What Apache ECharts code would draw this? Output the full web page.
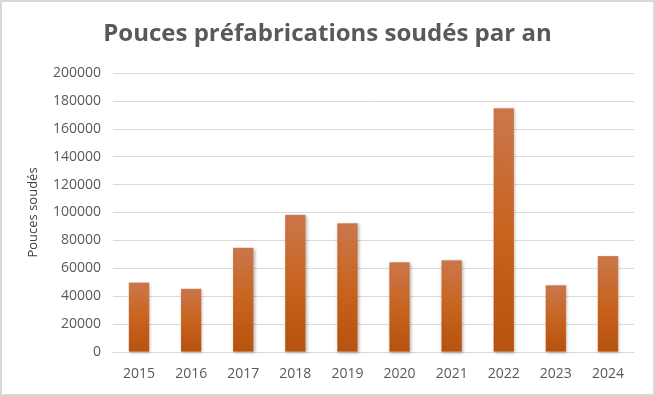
<!DOCTYPE html>
<html>
<head>
<meta charset="utf-8">
<script src="https://cdn.jsdelivr.net/npm/echarts@6/dist/echarts.min.js"></script>
<style>
  html, body {margin: 0; padding: 0; background: #fff;}
  #chart {width: 655px; height: 396px; box-sizing: border-box; border: 2px solid #d9d9d9;}
</style>
</head>
<body>
<div id="chart"></div>
<script>
function $(id) {return document.getElementById(id)}

var years = ['2015', '2016', '2017', '2018', '2019', '2020', '2021', '2022', '2023', '2024'];
var pouces = [50000, 45500, 75000, 98500, 92500, 64500, 66000, 175000, 48000, 69000];

var chart = echarts.init($('chart'));
chart.setOption({
  animation: false,
  title: {
    text: 'Pouces préfabrications soudés par an',
    left: 'center',
    top: 15,
    textStyle: {
      color: '#595959',
      fontFamily: 'Open Sans',
      fontWeight: 'bold',
      fontSize: 24
    }
  },
  grid: {
    left: 111,
    right: 19,
    top: 71,
    bottom: 42
  },
  xAxis: {
    type: 'category',
    data: years,
    axisTick: {show: false},
    axisLine: {lineStyle: {color: '#d9d9d9', width: 1}},
    axisLabel: {
      color: '#595959',
      fontFamily: 'Open Sans',
      fontSize: 14,
      margin: 15
    }
  },
  yAxis: {
    type: 'value',
    min: 0,
    max: 200000,
    interval: 20000,
    name: 'Pouces soudés',
    nameLocation: 'middle',
    nameGap: 73,
    nameTextStyle: {
      color: '#404040',
      fontFamily: 'Open Sans',
      fontSize: 13
    },
    axisLabel: {
      color: '#595959',
      fontFamily: 'Open Sans',
      fontSize: 14,
      margin: 12,
      formatter: function (v) { return String(v); }
    },
    splitLine: {lineStyle: {color: '#d9d9d9', width: 1}}
  },
  series: [{
    type: 'bar',
    data: pouces,
    barWidth: 21,
    itemStyle: {
      color: new echarts.graphic.LinearGradient(0, 0, 0, 1, [
        {offset: 0, color: '#cb774c'},
        {offset: 0.5, color: '#c8641f'},
        {offset: 1, color: '#b8520f'}
      ]),
      borderColor: 'rgba(255,255,255,0.35)',
      borderWidth: 0.5,
      shadowColor: 'rgba(0,0,0,0.3)',
      shadowBlur: 3,
      shadowOffsetX: 1,
      shadowOffsetY: 1
    }
  }]
});
</script>
</body>
</html>
